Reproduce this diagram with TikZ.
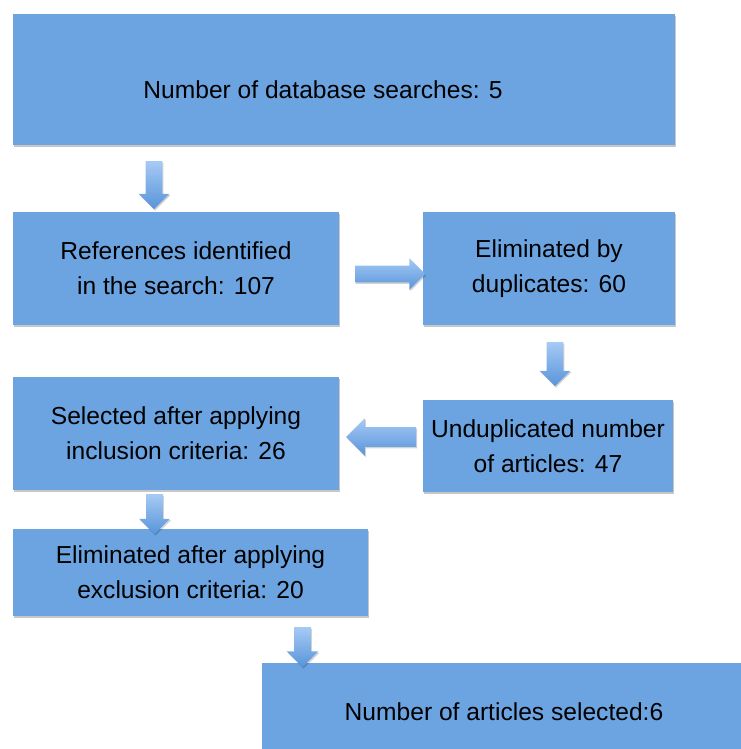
\documentclass[tikz,border=0pt]{standalone}
\usepackage{fontspec}
\setmainfont{Liberation Sans}
\usetikzlibrary{shapes.arrows, shadows}

\definecolor{boxblue}{RGB}{108,164,226}
\definecolor{arrtop}{RGB}{166,202,244}
\definecolor{arrbot}{RGB}{88,148,218}

\begin{document}
\begin{tikzpicture}[
  x=0.02cm, y=-0.02cm,
  font=\fontsize{14}{20}\selectfont,
  box/.style={rectangle, fill=boxblue, inner sep=0pt, align=center,
    drop shadow={shadow xshift=0.8pt, shadow yshift=-1.2pt, opacity=0.22, fill=black}},
  blockarr/.style={single arrow, inner sep=0.16cm, top color=arrtop, bottom color=arrbot,
    single arrow head extend=0.14cm,
    drop shadow={shadow xshift=0.6pt, shadow yshift=-0.8pt, opacity=0.18, fill=black}},
  down/.style={blockarr, shape border rotate=270},
  right/.style={blockarr, shape border rotate=0},
  left/.style={blockarr, shape border rotate=180}
]
  \useasboundingbox (0,0) rectangle (740,749);
  % boxes
  \node[box, minimum width=13.24cm, minimum height=2.62cm] (search) at (344,79.5) {};
  \node (searchlbl) at (323,90) {Number of database searches: 5};
  \node[box, minimum width=6.52cm, minimum height=2.26cm] (refs) at (176,268.5)
    {References identified\\in the search: 107};
  \node[box, minimum width=5.04cm, minimum height=2.26cm] (dups) at (549,268.5)
    {Eliminated by\\duplicates: 60};
  \node[box, minimum width=5.0cm, minimum height=1.84cm] (undup) at (548,446)
    {Unduplicated number\\of articles: 47};
  \node[box, minimum width=6.52cm, minimum height=2.26cm] (incl) at (176,433.5)
    {Selected after applying\\inclusion criteria: 26};
  \node[box, minimum width=7.1cm, minimum height=1.74cm] (excl) at (190.5,572.5)
    {Eliminated after applying\\exclusion criteria: 20};
  \node[box, minimum width=9.68cm, minimum height=1.96cm] (final) at (504,712)
    {Number of articles selected:6};
  % block arrows
  \node[down, minimum height=0.96cm] (a1) at (154,181) {};
  \node[right, minimum height=1.4cm, single arrow head extend=0.15cm] (a2) at (386,274) {};
  \node[down, minimum height=0.88cm] (a3) at (555,360) {};
  \node[left, minimum height=1.4cm, inner sep=0.19cm, single arrow head extend=0.18cm] (a4) at (386,437) {};
  \node[down, minimum height=0.8cm] (a5) at (154.5,510) {};
  \node[down, minimum height=0.8cm, single arrow head extend=0.15cm] (a6) at (302.5,643) {};
\end{tikzpicture}
\end{document}
